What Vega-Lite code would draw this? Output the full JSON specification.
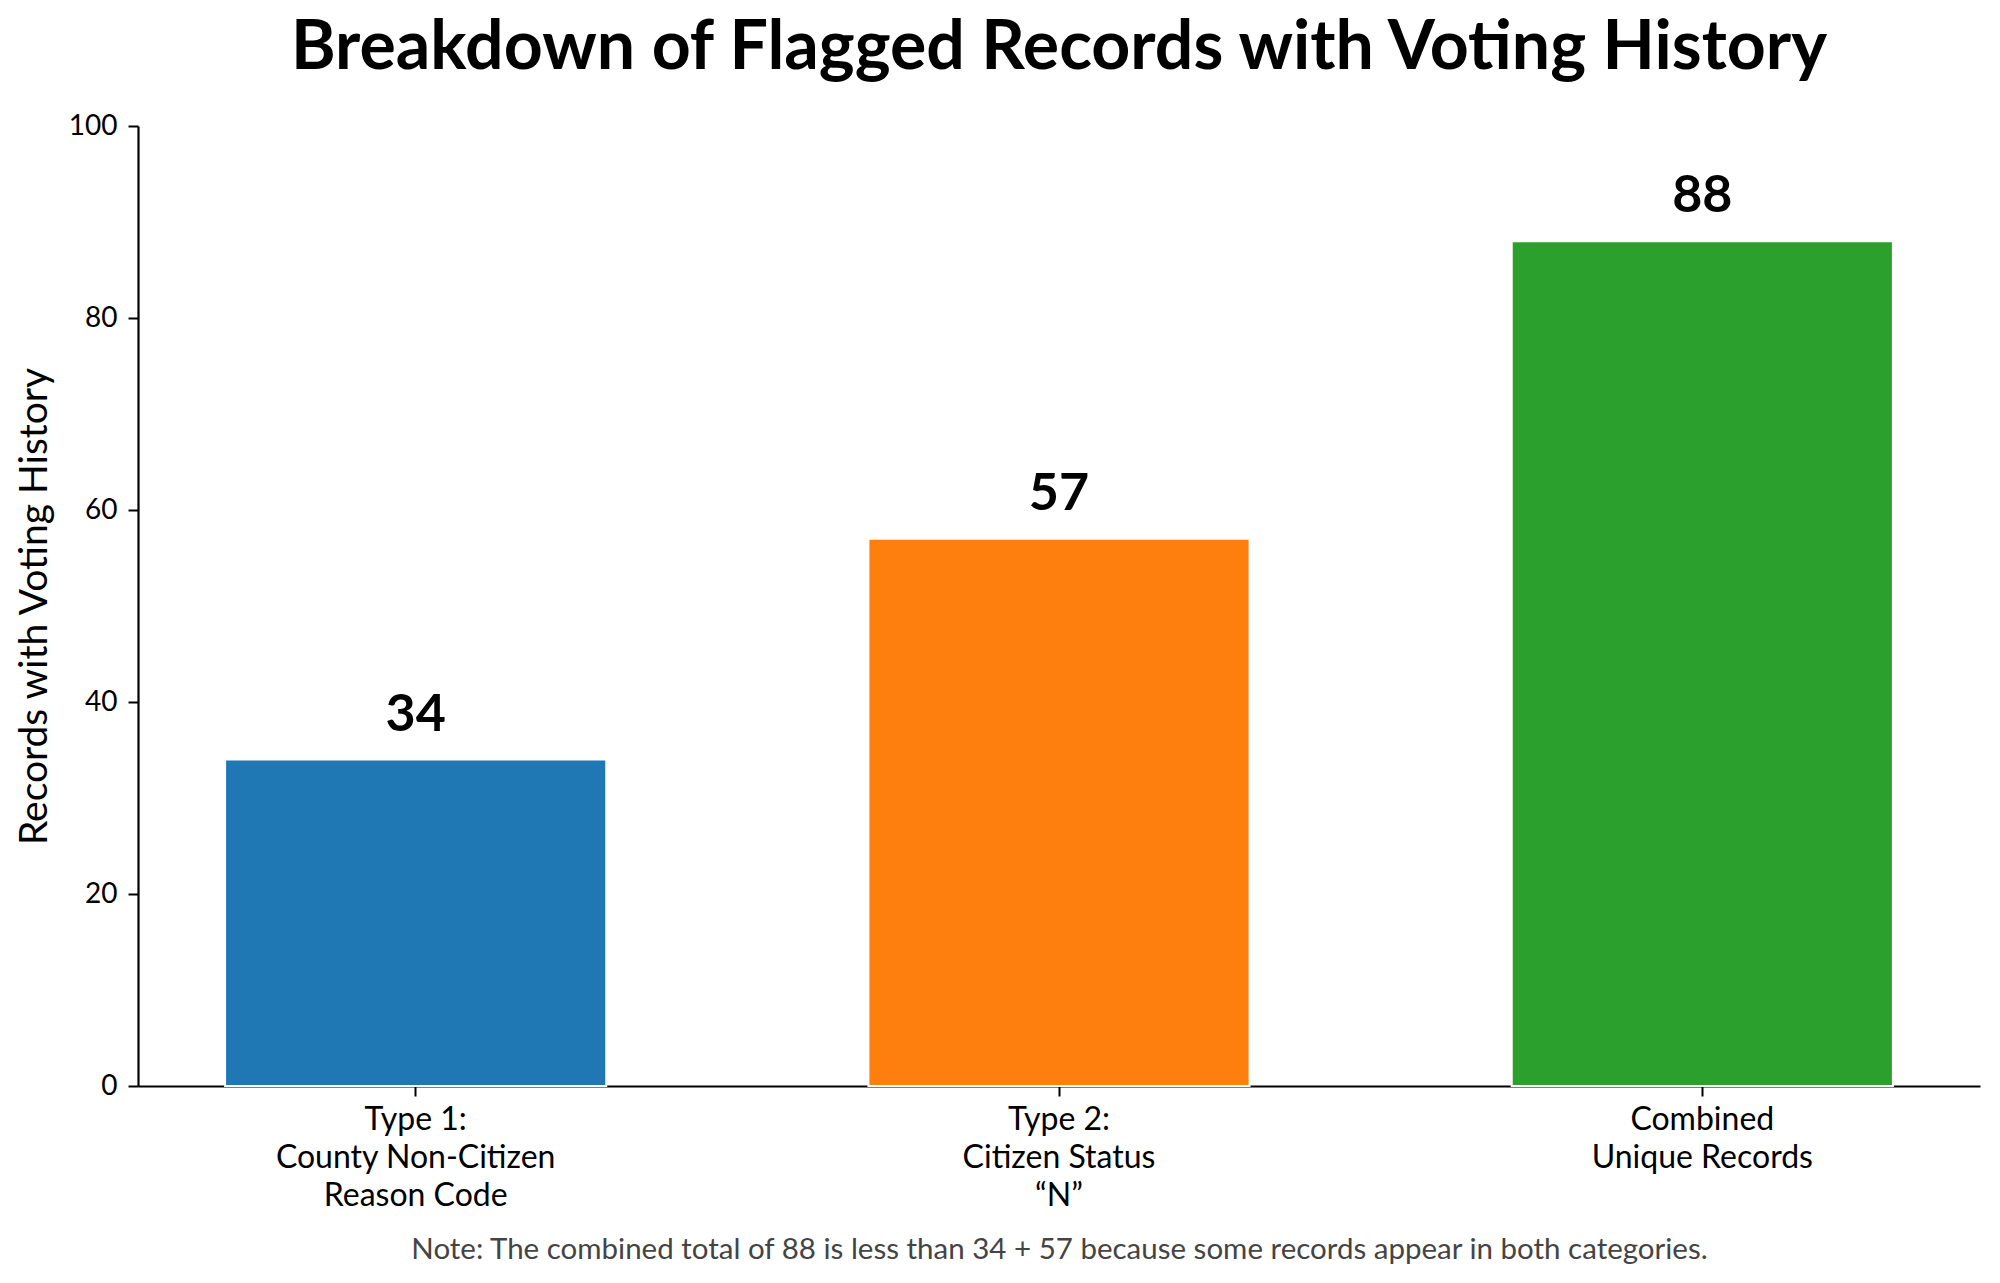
{
  "$schema": "https://vega.github.io/schema/vega-lite/v6.json",
  "width": 1842,
  "height": 960,
  "autosize": {"type": "none"},
  "padding": {"left": 138, "top": 126, "right": 20, "bottom": 197},
  "background": "white",
  "title": {
    "text": "Breakdown of Flagged Records with Voting History",
    "font": "Lato",
    "fontSize": 68,
    "fontWeight": "bold",
    "color": "black",
    "anchor": "middle",
    "frame": "group",
    "offset": 29
  },
  "config": {
    "view": {"stroke": null},
    "font": "Lato"
  },
  "data": {
    "values": [
      {"category": "Type 1:\nCounty Non-Citizen\nReason Code", "records": 34},
      {"category": "Type 2:\nCitizen Status\n“N”", "records": 57},
      {"category": "Combined\nUnique Records", "records": 88}
    ]
  },
  "encoding": {
    "x": {
      "field": "category",
      "type": "nominal",
      "sort": null,
      "scale": {"paddingInner": 0.4075, "paddingOuter": 0.1354},
      "axis": {
        "title": "Note: The combined total of 88 is less than 34 + 57 because some records appear in both categories.",
        "titleFont": "Lato",
        "titleFontSize": 29.5,
        "titleFontWeight": "normal",
        "titleColor": "#444444",
        "titlePadding": 24,
        "labelExpr": "split(datum.label, '\\n')",
        "labelAngle": 0,
        "labelLimit": 0,
        "labelFont": "Lato",
        "labelFontSize": 32,
        "labelColor": "black",
        "labelLineHeight": 38,
        "labelPadding": 8,
        "tickSize": 10,
        "tickWidth": 2,
        "tickColor": "black",
        "domainColor": "black",
        "domainWidth": 2.2
      }
    },
    "y": {
      "field": "records",
      "type": "quantitative",
      "scale": {"domain": [0, 100], "nice": false},
      "axis": {
        "title": "Records with Voting History",
        "titleFont": "Lato",
        "titleFontSize": 39,
        "titleFontWeight": "normal",
        "titleColor": "black",
        "titlePadding": 14,
        "values": [0, 20, 40, 60, 80, 100],
        "grid": false,
        "labelFont": "Lato",
        "labelFontSize": 28,
        "labelColor": "black",
        "labelPadding": 11,
        "tickSize": 10,
        "tickWidth": 2,
        "tickColor": "black",
        "domainColor": "black",
        "domainWidth": 2.2
      }
    }
  },
  "layer": [
    {
      "mark": {"type": "bar", "stroke": "white", "strokeWidth": 2},
      "encoding": {
        "color": {
          "field": "category",
          "type": "nominal",
          "sort": null,
          "scale": {"range": ["#1f77b4", "#ff7f0e", "#2ca02c"]},
          "legend": null
        }
      }
    },
    {
      "mark": {
        "type": "text",
        "baseline": "alphabetic",
        "dy": -29,
        "font": "Lato",
        "fontSize": 52,
        "fontWeight": "bold",
        "color": "black"
      },
      "encoding": {
        "text": {"field": "records", "type": "quantitative"}
      }
    }
  ]
}
